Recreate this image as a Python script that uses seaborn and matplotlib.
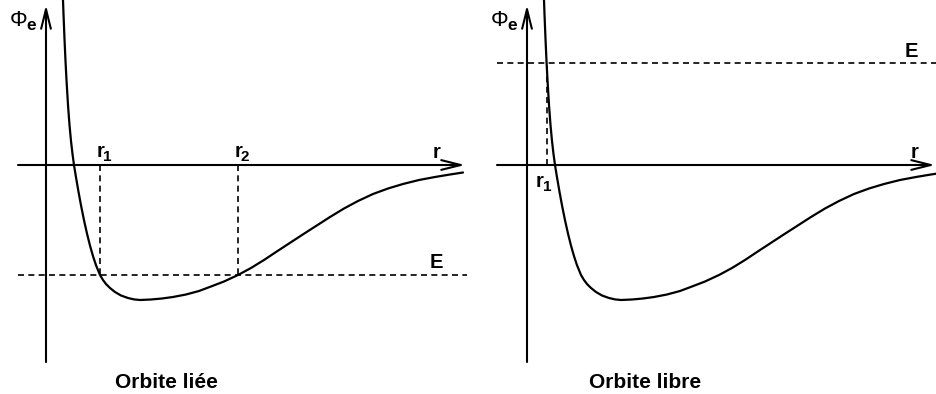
import numpy as np
import pandas as pd
import matplotlib
matplotlib.use("Agg")
import matplotlib.pyplot as plt
import seaborn as sns

# Effective potential curve Phi_e(r), sampled points (arbitrary units)
r_vals = [1.70, 1.75, 1.85, 1.95, 2.05, 2.20, 2.35, 2.50, 2.65, 2.80,
          3.00, 3.25, 3.50, 3.80, 4.10, 4.40, 4.70, 5.00, 5.40, 5.70,
          6.00, 6.40, 6.90, 7.50, 8.20, 8.80, 9.40, 10.5, 11.6, 12.7,
          14.0, 15.3, 16.5, 17.8, 19.2, 20.5, 21.8, 23.0, 24.3, 25.6,
          27.0, 28.4, 29.8, 31.2, 32.7, 34.2, 35.7, 37.3, 38.9, 40.4, 41.7]
phi_vals = [16.5, 15.1, 12.6, 10.4, 8.5, 6.0, 4.0, 2.4, 1.1, 0.0,
            -1.23, -2.68, -4.03, -5.52, -6.86, -8.06, -9.11, -10.02, -11.0, -11.5,
            -11.9, -12.3, -12.7, -13.05, -13.3, -13.44, -13.5, -13.45, -13.35, -13.2,
            -12.95, -12.6, -12.15, -11.65, -11.0, -10.3, -9.5, -8.7, -7.85, -7.0,
            -6.1, -5.2, -4.35, -3.6, -2.9, -2.35, -1.9, -1.5, -1.2, -0.95, -0.75]

# Energy levels and turning points for the two cases
energy_bound = -11.0
turning_bound = [5.4, 19.2]
energy_free = 10.2
turning_free = [1.96]

titles = ["Orbite liée", "Orbite libre"]

sns.set_theme(style="white")
plt.rcParams["font.family"] = ["Liberation Sans", "DejaVu Sans"]

df = pd.DataFrame({"r": r_vals, "phi": phi_vals})

fig = plt.figure(figsize=(9.36, 3.94), dpi=100)
ax_l = fig.add_axes([0.0, 0.0, 0.5, 1.0])
ax_r = fig.add_axes([0.5, 0.0, 0.5, 1.0])

ylim = (-22.9, 16.5)
panels = [
    dict(ax=ax_l, xlim=(-4.6, 42.2), xaxis=(-2.8, 41.9), eline=(-2.8, 42.1),
         E=energy_bound, turns=turning_bound, title=titles[0], tx=12.0,
         rlab=38.7, elab=(38.4, -10.3)),
    dict(ax=ax_r, xlim=(-5.9, 40.9), xaxis=(-3.0, 40.8), eline=(-3.0, 40.9),
         E=energy_free, turns=turning_free, title=titles[1], tx=11.8,
         rlab=38.4, elab=(37.8, 10.8)),
]

ink = "black"
lab_fs = 14.5
sub_fs = 11
dash = (0, (3.6, 2.6))

for p in panels:
    ax = p["ax"]
    ax.set_xlim(*p["xlim"])
    ax.set_ylim(*ylim)
    ax.axis("off")

    # potential curve
    sns.lineplot(data=df, x="r", y="phi", sort=False, estimator=None,
                 color=ink, linewidth=1.6, ax=ax)

    # coordinate axes with open arrowheads
    arrow = dict(arrowstyle="->,head_length=1.4,head_width=0.35",
                 color=ink, lw=1.5, shrinkA=0, shrinkB=0, mutation_scale=10)
    ax.annotate("", xy=(p["xaxis"][1], 0), xytext=(p["xaxis"][0], 0),
                arrowprops=arrow)
    ax.annotate("", xy=(0, 16.0), xytext=(0, -19.7), arrowprops=arrow)

    # energy level
    ax.plot(p["eline"], [p["E"], p["E"]], color=ink, lw=1.2, linestyle=dash)
    # turning points
    for rt in p["turns"]:
        ax.plot([rt, rt], [0, p["E"]], color=ink, lw=1.2, linestyle=dash)

    # labels
    ax.text(-3.65, 13.9, "Φ", fontsize=16, ha="left", va="baseline",
            color=ink)
    ax.text(-2.0, 13.5, "e", fontsize=12.5, fontweight="bold",
            ha="left", va="baseline", color=ink)
    ax.text(p["rlab"], 0.7, "r", fontsize=lab_fs, fontweight="bold",
            ha="left", va="baseline", color=ink)
    ax.text(p["elab"][0], p["elab"][1], "E", fontsize=lab_fs,
            fontweight="bold", ha="left", va="baseline", color=ink)
    ax.text(p["tx"], -21.7, p["title"], fontsize=15, fontweight="bold",
            ha="center", va="center", color=ink)


def turning_label(ax, x, y, digit):
    ax.text(x, y, "r", fontsize=lab_fs, fontweight="bold",
            ha="left", va="baseline", color=ink)
    ax.text(x + 0.65, y - 0.35, digit, fontsize=sub_fs, fontweight="bold",
            ha="left", va="baseline", color=ink)


for name, rt in zip(["1", "2"], turning_bound):
    turning_label(ax_l, rt - 0.35, 0.8, name)
turning_label(ax_r, 0.9, -2.2, "1")

fig.savefig("out.png", dpi=100, facecolor="white")
